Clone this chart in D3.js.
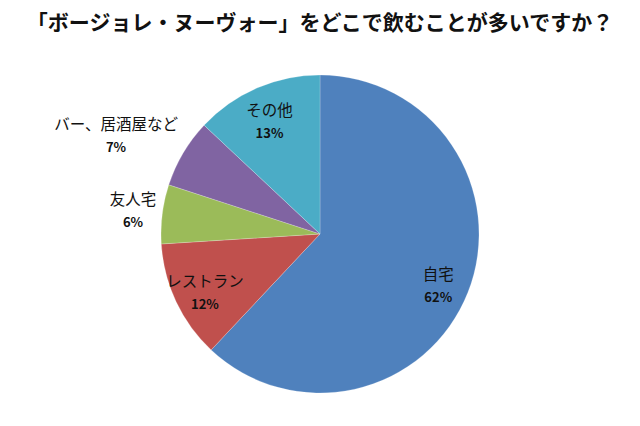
<!DOCTYPE html>
<html>
<head>
	<meta charset="utf-8">
	<script src="https://cdn.jsdelivr.net/npm/d3@7/dist/d3.min.js"></script>
	<style>
		body { margin: 0; background: #fff; }
		text { font-family: "Noto Sans CJK JP", sans-serif; }
	</style>
</head>
<body>
	<svg id="chart" width="640" height="426"></svg>
	<script>
		var title = '「ボージョレ・ヌーヴォー」をどこで飲むことが多いですか？';
		var places = ['自宅', 'レストラン', '友人宅', 'バー、居酒屋など', 'その他'];
		var shares = [62, 12, 6, 7, 13];
		var colors = ['#4f81bd', '#c0504d', '#9bbb59', '#8064a2', '#4bacc6'];

		var width = 640, height = 426;
		var cx = 320, cy = 234, r = 159;

		var svg = d3.select('#chart');

		svg.append('text')
			.attr('x', width / 2)
			.attr('y', 30)
			.attr('text-anchor', 'middle')
			.style('font-size', '21px')
			.style('font-weight', 'bold')
			.attr('fill', '#111')
			.text(title);

		var data = places.map((p, i) => ({ place: p, share: shares[i] }));

		var color = d3.scaleOrdinal()
			.domain(places)
			.range(colors);

		var pie = d3.pie()
			.sort(null)
			.value(d => d.share);

		var arc = d3.arc().innerRadius(0).outerRadius(r);
		var labelArc = d3.arc().innerRadius(r * 0.8).outerRadius(r * 0.8);

		var g = svg.append('g')
			.attr('transform', 'translate(' + cx + ',' + cy + ')');

		var arcs = pie(data);

		g.selectAll('path')
			.data(arcs)
			.enter()
			.append('path')
			.attr('d', arc)
			.attr('fill', d => color(d.data.place))
			.attr('stroke', 'rgba(255,255,255,0.35)')
			.attr('stroke-width', 0.6);

		// labels: big slices inside, small ones outside the pie
		arcs.forEach(d => {
			var lg = g.append('g');
			lg.append('text')
				.attr('class', 'name')
				.attr('text-anchor', 'middle')
				.attr('y', -5)
				.style('font-size', '15.5px')
				.attr('fill', '#111')
				.text(d.data.place);
			lg.append('text')
				.attr('text-anchor', 'middle')
				.attr('y', 17)
				.style('font-size', '13px')
				.style('font-weight', 'bold')
				.attr('fill', '#111')
				.text(d.data.share + '%');

			var mid = (d.startAngle + d.endAngle) / 2;
			var x, y;
			if (d.data.share >= 10) {
				[x, y] = labelArc.centroid(d);
				y += 4;
			} else {
				var w = lg.select('.name').node().getComputedTextLength();
				var h = 60;
				x = Math.sin(mid) * (r + 6) + Math.sign(Math.sin(mid)) * w / 2;
				y = -Math.cos(mid) * (r + 6) - Math.cos(mid) * h / 2;
			}
			lg.attr('transform', 'translate(' + x + ',' + y + ')');
		});
	</script>
</body>
</html>
